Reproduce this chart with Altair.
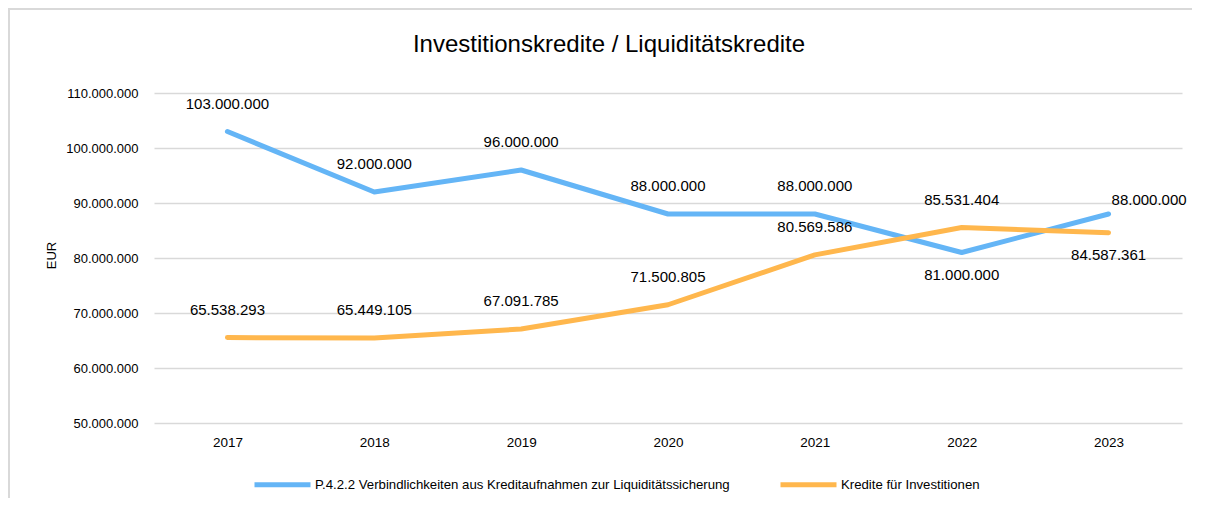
import altair as alt
import pandas as pd

# ---- data ----
years = ["2017", "2018", "2019", "2020", "2021", "2022", "2023"]
liquiditaet = [103000000, 92000000, 96000000, 88000000, 88000000, 81000000, 88000000]
investitionen = [65538293, 65449105, 67091785, 71500805, 80569586, 85531404, 84587361]
series_names = [
    "P.4.2.2 Verbindlichkeiten aus Kreditaufnahmen zur Liquiditätssicherung",
    "Kredite für Investitionen",
]
y_ticks = [50000000, 60000000, 70000000, 80000000, 90000000, 100000000, 110000000]
title_text = "Investitionskredite / Liquiditätskredite"

# label placement per point (style, not data)
pos_liquiditaet = ["above", "above", "above", "above", "above", "below", "right"]
pos_investitionen = ["above", "above", "above", "above", "above", "above", "below"]
series_colors = ["#64B5F6", "#FFB74D"]

FONT = "Liberation Sans, Arial, sans-serif"


def de_fmt(v):
    return f"{v:,}".replace(",", ".")


rows = []
for y, v, p in zip(years, liquiditaet, pos_liquiditaet):
    rows.append({"year": y, "value": v, "series": series_names[0], "label": de_fmt(v), "pos": p})
for y, v, p in zip(years, investitionen, pos_investitionen):
    rows.append({"year": y, "value": v, "series": series_names[1], "label": de_fmt(v), "pos": p})
df = pd.DataFrame(rows)

x_enc = alt.X(
    "year:N",
    title=None,
    axis=alt.Axis(labelAngle=0, domain=False, ticks=False, grid=False,
                  labelPadding=12, labelFontSize=13.5, labelFont=FONT, labelColor="#000000"),
)
y_enc = alt.Y(
    "value:Q",
    scale=alt.Scale(domain=[50000000, 110000000], nice=False, zero=False),
    axis=alt.Axis(
        values=y_ticks, grid=True, gridColor="#d9d9d9", gridWidth=1.5,
        domain=False, ticks=False, labelPadding=16, labelFontSize=13, labelFont=FONT,
        labelColor="#000000",
        labelExpr="replace(replace(format(datum.value, ','), ',', '.'), ',', '.')",
        title="EUR", titleFont=FONT, titleFontSize=13, titleFontWeight="normal",
        titleColor="#000000", titleAngle=-90, titleX=-99, titleY=162,
        titleAlign="center", titleBaseline="alphabetic",
    ),
)

base = alt.Chart(df).encode(x=x_enc, y=y_enc)

lines = base.mark_line(strokeWidth=5, strokeCap="round", strokeJoin="round").encode(
    color=alt.Color(
        "series:N",
        scale=alt.Scale(domain=series_names, range=series_colors),
        legend=alt.Legend(
            title=None, orient="none", legendX=98, legendY=361, direction="horizontal",
            symbolType="stroke", symbolStrokeWidth=5, symbolSize=3136,
            labelFont=FONT, labelFontSize=13.2, labelColor="#000000", labelLimit=1000,
            columnPadding=40, labelOffset=2,
        ),
    )
)

txt_kw = dict(font=FONT, fontSize=15, color="#000000")
above = base.mark_text(baseline="alphabetic", dy=-23, **txt_kw).encode(text="label:N").transform_filter(
    alt.datum.pos == "above")
below = base.mark_text(baseline="alphabetic", dy=27, **txt_kw).encode(text="label:N").transform_filter(
    alt.datum.pos == "below")
right = base.mark_text(baseline="alphabetic", align="left", dx=3, dy=-9, **txt_kw).encode(
    text="label:N").transform_filter(alt.datum.pos == "right")

one = pd.DataFrame({"t": [title_text]})
border = alt.Chart(one).mark_rect(
    fill="transparent", stroke="#d9d9d9", strokeWidth=2
).encode(x=alt.value(-145), x2=alt.value(1100), y=alt.value(-84), y2=alt.value(520))

title = alt.Chart(one).mark_text(
    font=FONT, fontSize=24, color="#000000", align="center", baseline="alphabetic"
).encode(text="t:N", x=alt.value(455), y=alt.value(-41))

chart = alt.layer(border, title, lines, above, below, right).properties(
    width=1028,
    height=330,
    autosize=alt.AutoSizeParams(type="none"),
    padding={"left": 146, "top": 85, "right": 10, "bottom": 75},
).configure_view(stroke=None)

chart.save("out.html", embed_options={"renderer": "svg", "actions": False})
